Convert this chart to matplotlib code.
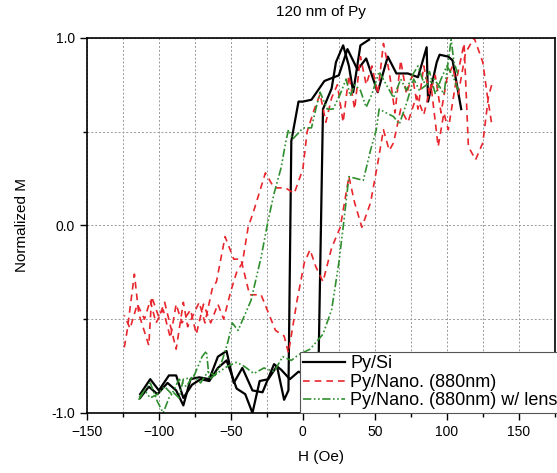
import matplotlib.pyplot as plt
from matplotlib.ticker import MultipleLocator

plt.rcParams['font.family'] = ['Liberation Sans', 'DejaVu Sans']

# Py/Si - ascending branch
si_up_h = [-113, -107, -101, -94, -88, -83, -78, -72, -65, -59, -53, -48, -42, -35, -28, -20, -15,
           -9, -3, 3, 9, 11, 14, 20, 23, 28, 32, 35, 40, 46]
si_up_m = [-0.92, -0.86, -0.90, -0.84, -0.88, -0.96, -0.82, -0.81, -0.82, -0.70, -0.67, -0.84, -0.76,
           -0.88, -0.89, -0.74, -0.77, -0.82, -0.78, -0.80, -0.78, -0.70, 0.62, 0.73, 0.87, 0.96, 0.85,
           0.71, 0.96, 0.99]
# Py/Si - descending branch
si_dn_h = [110, 104, 101, 95, 93, 87, 86, 80, 73, 65, 59, 52, 44, 38, 31, 25, 15, 6, 0, -3, -8, -10,
           -13, -18, -24, -30, -35, -40, -46, -53, -59, -65, -71, -77, -83, -88, -93, -100, -106, -113]
si_dn_m = [0.62, 0.88, 0.90, 0.91, 0.87, 0.66, 0.95, 0.79, 0.81, 0.81, 0.90, 0.71, 0.89, 0.83, 0.94,
           0.80, 0.77, 0.67, 0.66, 0.66, 0.45, -0.88, -0.93, -0.75, -0.82, -0.83, -1.00, -0.90, -0.87,
           -0.72, -0.76, -0.83, -0.82, -0.85, -0.92, -0.80, -0.80, -0.88, -0.82, -0.90]

# Py/Nano. (880nm)
nano_up_h = [-124, -122, -117, -114, -107, -105, -100, -96, -88, -83, -80, -72, -68, -63, -60, -54,
             -48, -43, -37, -29, -19, -13, -10, -4, 1, 5, 9, 14, 20, 26, 32, 36, 41, 47, 52, 56, 60,
             63, 68, 73, 79, 84, 89, 94, 98, 101, 106, 112, 115, 120, 125, 129, 132]
nano_up_m = [-0.65, -0.56, -0.26, -0.47, -0.64, -0.38, -0.49, -0.41, -0.66, -0.41, -0.54, -0.41,
             -0.52, -0.34, -0.30, -0.06, -0.18, -0.18, -0.37, -0.37, -0.56, -0.59, -0.68, -0.40,
             -0.20, -0.13, -0.22, -0.30, -0.12, -0.01, 0.26, 0.12, -0.01, 0.12, 0.33, 0.51, 0.40,
             0.44, 0.62, 0.55, 0.69, 0.59, 0.75, 0.42, 0.60, 0.51, 0.75, 0.97, 0.42, 0.35, 0.44,
             0.69, 0.77]
nano_dn_h = [131, 128, 125, 119, 113, 108, 104, 100, 96, 92, 88, 84, 80, 76, 72, 68, 64, 60, 56, 52,
             48, 44, 40, 36, 32, 28, 24, 20, 16, 12, 8, 3, 0, -6, -12, -20, -26, -34, -38, -42, -46,
             -50, -55, -59, -64, -69, -74, -78, -84, -88, -92, -97, -102, -106, -110, -115, -120,
             -124]
nano_dn_m = [0.55, 0.70, 0.87, 1.00, 0.92, 0.70, 0.85, 0.78, 0.60, 0.80, 0.70, 0.85, 0.62, 0.80,
             0.70, 0.88, 0.60, 0.82, 0.97, 0.70, 0.85, 0.75, 0.90, 0.62, 0.80, 0.55, 0.75, 0.68,
             0.55, 0.70, 0.62, 0.50, 0.30, 0.17, 0.20, 0.20, 0.28, 0.08, -0.01, -0.20, -0.25, -0.35,
             -0.50, -0.42, -0.52, -0.42, -0.58, -0.45, -0.52, -0.42, -0.60, -0.45, -0.52, -0.40,
             -0.50, -0.42, -0.55, -0.48]

# Py/Nano. (880nm) w/ lens
lens_up_h = [-114, -110, -106, -101, -97, -93, -90, -86, -83, -76, -70, -67, -65, -58, -52, -46,
             -41, -34, -27, -20, -14, -8, -3, 5, 14, 20, 25, 28, 32, 37, 42, 47, 51, 53, 58, 63, 67,
             72, 77, 81, 86, 91, 95, 98, 103, 105, 108]
lens_up_m = [-0.93, -0.88, -0.84, -0.94, -1.00, -0.92, -0.89, -0.92, -0.82, -0.81, -0.70, -0.67,
             -0.82, -0.78, -0.75, -0.73, -0.75, -0.79, -0.76, -0.78, -0.70, -0.72, -0.69, -0.66,
             -0.58, -0.45, -0.20, -0.01, 0.26, 0.25, 0.24, 0.40, 0.51, 0.62, 0.60, 0.58, 0.54, 0.65,
             0.78, 0.72, 0.75, 0.78, 0.74, 0.70, 0.99, 0.87, 0.80]
lens_dn_h = [108, 104, 100, 96, 92, 88, 84, 80, 76, 72, 68, 63, 58, 53, 48, 44, 40, 36, 33, 30, 26,
             21, 17, 12, 9, 6, 1, -1, -7, -10, -12, -15, -20, -24, -29, -36, -45, -49, -52, -56,
             -61, -66, -71, -76, -81, -86, -91, -96, -101, -106, -110, -114]
lens_dn_m = [0.72, 0.80, 0.85, 0.78, 0.70, 0.82, 0.76, 0.85, 0.80, 0.72, 0.78, 0.68, 0.75, 0.82,
             0.70, 0.63, 0.72, 0.75, 0.69, 0.78, 0.70, 0.62, 0.62, 0.71, 0.62, 0.52, 0.52, 0.51,
             0.46, 0.51, 0.44, 0.31, 0.17, 0.03, -0.17, -0.40, -0.56, -0.52, -0.62, -0.72, -0.80,
             -0.78, -0.84, -0.80, -0.86, -0.82, -0.90, -0.86, -0.90, -0.92, -0.88, -0.92]

fig = plt.figure(figsize=(5.57, 4.73), dpi=100)
ax = fig.add_axes([0.156, 0.127, 0.84, 0.793])

red = '#e8262d'
green = '#2f8f2f'
green_dash = (0, (5, 1.5, 1, 1.5, 1, 1.5))

ax.plot(si_up_h, si_up_m, color='black', lw=1.6, label='Py/Si')
ax.plot(si_dn_h, si_dn_m, color='black', lw=1.6)
ax.plot(nano_up_h, nano_up_m, color=red, lw=1.2, linestyle=(0, (4, 3)), label='Py/Nano. (880nm)')
ax.plot(nano_dn_h, nano_dn_m, color=red, lw=1.2, linestyle=(0, (4, 3)))
ax.plot(lens_up_h, lens_up_m, color=green, lw=1.2, linestyle=green_dash,
        label='Py/Nano. (880nm) w/ lens')
ax.plot(lens_dn_h, lens_dn_m, color=green, lw=1.2, linestyle=green_dash)

ax.set_xlim(-150, 175)
ax.set_ylim(-1, 1)
ax.xaxis.set_major_locator(MultipleLocator(50))
ax.xaxis.set_minor_locator(MultipleLocator(25))
ax.yaxis.set_major_locator(MultipleLocator(1.0))
ax.yaxis.set_minor_locator(MultipleLocator(0.5))
ax.set_yticklabels([], minor=True)
ax.yaxis.set_major_formatter(plt.FormatStrFormatter('%.1f'))
ax.tick_params(which='major', direction='out', length=5, width=1, labelsize=10)
ax.tick_params(which='minor', direction='out', length=3, width=1)
ax.tick_params(top=False, right=False)
for s in ax.spines.values():
    s.set_linewidth(1.2)

ax.grid(True, which='both', color='#999999', linestyle=(0, (2, 2)), linewidth=0.7)
ax.set_axisbelow(True)

ax.set_xlabel('H (Oe)', fontsize=11, labelpad=8)
ax.set_ylabel('Normalized M', fontsize=11, labelpad=16)
ax.set_title('120 nm of Py', fontsize=11, pad=16)

leg = ax.legend(loc='lower left', bbox_to_anchor=(0.455, 0.0), borderaxespad=0, fontsize=13,
                fancybox=False, edgecolor='#555555', framealpha=1, handlelength=2.3,
                handletextpad=0.3, labelspacing=0.08, borderpad=0.2)
leg.get_frame().set_linewidth(0.8)
leg.set_zorder(5)

plt.savefig('out.png', dpi=100)
